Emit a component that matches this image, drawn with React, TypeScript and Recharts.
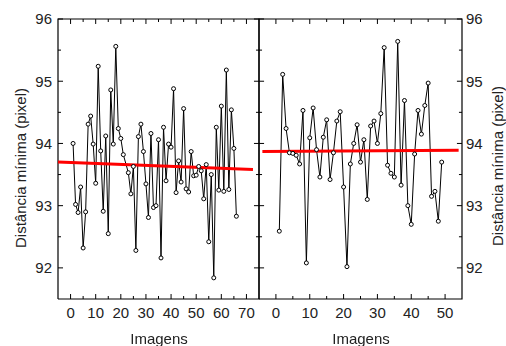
import React from 'react';
import { LineChart, Line, XAxis, YAxis } from 'recharts';

// ---- data ----
const leftImages = [1, 2, 3, 4, 5, 6, 7, 8, 9, 10, 11, 12, 13, 14, 15, 16, 17, 18, 19, 20, 21, 23, 24, 25, 26, 27, 28, 29, 30, 31, 32, 33, 34, 35, 36, 37, 38, 39, 40, 41, 42, 43, 44, 45, 46, 47, 48, 49, 50, 51, 52, 53, 54, 55, 56, 57, 58, 59, 60, 61, 62, 63, 64, 65, 66];
const leftDistances = [94.0, 93.02, 92.89, 93.3, 92.32, 92.9, 94.31, 94.44, 93.99, 93.36, 95.24, 93.88, 92.91, 94.12, 92.55, 94.86, 93.99, 95.56, 94.24, 94.08, 93.82, 93.53, 93.19, 93.63, 92.28, 94.11, 94.31, 93.87, 93.35, 92.81, 94.16, 92.97, 93.0, 94.06, 92.16, 94.26, 93.4, 93.99, 93.94, 94.88, 93.21, 93.72, 93.38, 94.56, 93.27, 93.22, 93.87, 93.48, 93.49, 93.63, 93.56, 93.11, 93.66, 92.42, 93.5, 91.84, 94.26, 93.25, 94.6, 93.23, 95.18, 93.26, 94.54, 93.92, 92.83];

const rightImages = [1, 2, 3, 4, 5, 6, 7, 8, 9, 10, 11, 12, 13, 14, 15, 16, 17, 18, 19, 20, 21, 22, 23, 24, 25, 26, 27, 28, 29, 30, 31, 32, 33, 34, 35, 36, 37, 38, 39, 40, 41, 42, 43, 44, 45, 46, 47, 48, 49];
const rightDistances = [92.59, 95.11, 94.24, 93.85, 93.84, 93.81, 93.67, 94.53, 92.08, 94.09, 94.57, 93.9, 93.46, 94.1, 94.38, 93.42, 93.85, 94.36, 94.51, 93.3, 92.02, 93.67, 94.0, 94.3, 93.7, 94.06, 93.1, 94.28, 94.36, 94.0, 94.48, 95.54, 93.65, 93.52, 93.46, 95.64, 93.33, 94.69, 93.0, 92.7, 93.83, 94.53, 94.15, 94.61, 94.97, 93.15, 93.23, 92.75, 93.7];

const leftFitX = [-5, 72.6];
const leftFitY = [93.7, 93.58];
const rightFitX = [-4, 54];
const rightFitY = [93.87, 93.89];

const leftXTicks = [0, 5, 10, 15, 20, 25, 30, 35, 40, 45, 50, 55, 60, 65, 70];
const leftXLabels = [0, 10, 20, 30, 40, 50, 60, 70];
const rightXTicks = [0, 5, 10, 15, 20, 25, 30, 35, 40, 45, 50];
const rightXLabels = [0, 10, 20, 30, 40, 50];
const yTicks = [92, 92.5, 93, 93.5, 94, 94.5, 95, 95.5, 96];
const yLabels = [92, 93, 94, 95, 96];

const leftXDomain: [number, number] = [-5, 75];
const rightXDomain: [number, number] = [-5, 55];
const yDomain: [number, number] = [91.5, 96];

const yTitle = 'Distância mínima (pixel)';
const xTitle = 'Imagens';

// ---- built tables ----
type Pt = { x: number; y: number | null };
const toPts = (xs: number[], ys: number[]): Pt[] => xs.map((x, i) => ({ x, y: ys[i] }));
const leftData = toPts(leftImages, leftDistances);
const rightData = toPts(rightImages, rightDistances);
const leftFit = toPts(leftFitX, leftFitY);
const rightFit = toPts(rightFitX, rightFitY);

// frame of the plotting box, in data units
function frameOf(xd: [number, number], yd: [number, number]): Pt[] {
  return [
    { x: xd[0], y: yd[0] },
    { x: xd[1], y: yd[0] },
    { x: xd[1], y: yd[1] },
    { x: xd[0], y: yd[1] },
    { x: xd[0], y: yd[0] },
  ];
}

// inward tick marks on all four sides, as broken line segments
function ticksOf(
  xd: [number, number],
  yd: [number, number],
  xt: number[],
  xMaj: number[],
  xLen: [number, number],
  yLen: [number, number]
): Pt[] {
  const out: Pt[] = [];
  xt.forEach((t) => {
    const l = xMaj.includes(t) ? yLen[0] : yLen[1];
    out.push({ x: t, y: yd[0] }, { x: t, y: yd[0] + l }, { x: t, y: null });
    out.push({ x: t, y: yd[1] }, { x: t, y: yd[1] - l }, { x: t, y: null });
  });
  yTicks.forEach((t) => {
    const l = yLabels.includes(t) ? xLen[0] : xLen[1];
    out.push({ x: xd[0], y: t }, { x: xd[0] + l, y: t }, { x: xd[0], y: null });
    out.push({ x: xd[1], y: t }, { x: xd[1] - l, y: t }, { x: xd[1], y: null });
  });
  return out;
}

const FONT = '"Liberation Sans", Arial, sans-serif';
const TEXT = '#222';
const FS = 15;

function makeLabel(side: string, majors: number[]) {
  return (props: any) => {
    const x = Number(props.x);
    const y = Number(props.y);
    const v = Number(props.payload.value);
    if (!majors.includes(v)) return <g />;
    if (side === 'left')
      return (
        <text x={x - 6} y={y} dy="0.36em" textAnchor="end" fill={TEXT} fontFamily={FONT} fontSize={FS}>
          {v}
        </text>
      );
    if (side === 'right')
      return (
        <text x={x + 4} y={y} dy="0.36em" textAnchor="start" fill={TEXT} fontFamily={FONT} fontSize={FS}>
          {v}
        </text>
      );
    return (
      <text x={x} y={y + 19} textAnchor="middle" fill={TEXT} fontFamily={FONT} fontSize={FS}>
        {v}
      </text>
    );
  };
}

const common = {
  type: 'number' as const,
  tickSize: 0,
  tickMargin: 0,
  tickLine: false,
  axisLine: false,
  interval: 0 as const,
};

const dotStyle = { r: 2, fill: '#fff', stroke: '#000', strokeWidth: 1 };

function Panel(props: {
  data: Pt[];
  fit: Pt[];
  xDomain: [number, number];
  xTicks: number[];
  xLabels: number[];
  xLen: [number, number];
  width: number;
  labelSide: 'left' | 'right';
  labelW: number;
  margin: { top: number; right: number; bottom: number; left: number };
}) {
  const { data, fit, xDomain, xTicks, xLabels, xLen, width, labelSide, labelW, margin } = props;
  const frame = frameOf(xDomain, yDomain);
  const marks = ticksOf(xDomain, yDomain, xTicks, xLabels, xLen, [0.08, 0.048]);
  return (
    <LineChart width={width} height={346} margin={margin}>
      <XAxis xAxisId="b" orientation="bottom" dataKey="x" domain={xDomain} ticks={xLabels} height={47} tick={makeLabel('bottom', xLabels)} {...common} />
      <YAxis yAxisId="y" orientation={labelSide} domain={yDomain} ticks={yLabels} width={labelW} tick={makeLabel(labelSide, yLabels)} {...common} />
      <Line xAxisId="b" yAxisId="y" data={frame} dataKey="y" type="linear" stroke="#000" strokeWidth={1.2} dot={false} activeDot={false} isAnimationActive={false} />
      <Line xAxisId="b" yAxisId="y" data={marks} dataKey="y" type="linear" stroke="#000" strokeWidth={1} dot={false} activeDot={false} connectNulls={false} isAnimationActive={false} />
      <Line xAxisId="b" yAxisId="y" data={data} dataKey="y" type="linear" stroke="#000" strokeWidth={1} dot={dotStyle} activeDot={false} isAnimationActive={false} />
      <Line xAxisId="b" yAxisId="y" data={fit} dataKey="y" type="linear" stroke="#ff0000" strokeWidth={3} dot={false} activeDot={false} isAnimationActive={false} />
    </LineChart>
  );
}

const titleStyle: React.CSSProperties = {
  position: 'absolute',
  fontFamily: FONT,
  fontSize: FS,
  color: TEXT,
  whiteSpace: 'nowrap',
  lineHeight: '15px',
};

export default function App() {
  return (
    <div style={{ position: 'fixed', left: 0, top: 0, width: 506, height: 346, background: '#fff' }}>
      <div style={{ position: 'absolute', left: 0, top: 0 }}>
        <Panel
          data={leftData}
          fit={leftFit}
          xDomain={leftXDomain}
          xTicks={leftXTicks}
          xLabels={leftXLabels}
          xLen={[2, 1.2]}
          width={260}
          labelSide="left"
          labelW={58}
          margin={{ top: 19, right: 1, bottom: 0, left: 0 }}
        />
      </div>
      <div style={{ position: 'absolute', left: 258, top: 0 }}>
        <Panel
          data={rightData}
          fit={rightFit}
          xDomain={rightXDomain}
          xTicks={rightXTicks}
          xLabels={rightXLabels}
          xLen={[1.5, 0.9]}
          width={248}
          labelSide="right"
          labelW={44}
          margin={{ top: 19, right: 0, bottom: 0, left: 1 }}
        />
      </div>
      <div style={{ ...titleStyle, left: 20, top: 168, transform: 'translate(-50%, -50%) rotate(-90deg)' }}>{yTitle}</div>
      <div style={{ ...titleStyle, left: 497, top: 166, transform: 'translate(-50%, -50%) rotate(-90deg)' }}>{yTitle}</div>
      <div style={{ ...titleStyle, left: 159, top: 331, transform: 'translateX(-50%)' }}>{xTitle}</div>
      <div style={{ ...titleStyle, left: 361, top: 331, transform: 'translateX(-50%)' }}>{xTitle}</div>
    </div>
  );
}
